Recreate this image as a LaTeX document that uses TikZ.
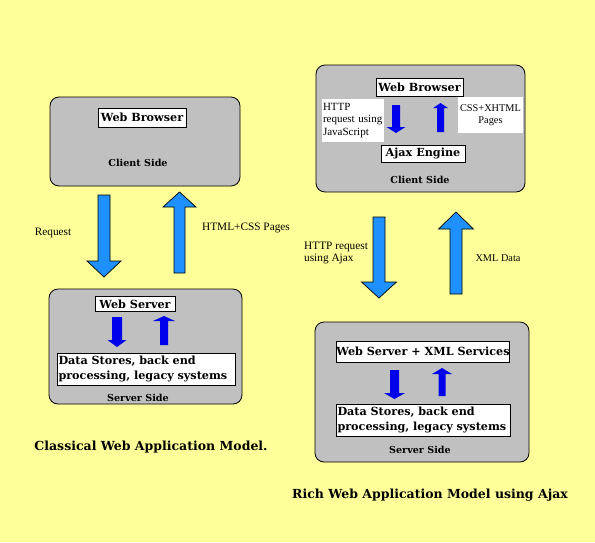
\documentclass[tikz,border=0pt]{standalone}
\usepackage{fontspec}
\setmainfont{Liberation Serif}
\newfontfamily\dvs{DejaVu Serif}
\definecolor{bgyellow}{RGB}{255,255,153}
\definecolor{panelgray}{RGB}{192,192,192}
\definecolor{bigblue}{RGB}{30,144,255}
\definecolor{smallblue}{RGB}{0,0,235}
\newcommand{\arrowshape}[7]{%
  \filldraw[#1] ({#2-#3},#5) -- ({#2-#3},#6) -- ({#2-#4},#6) -- (#2,#7)
    -- ({#2+#4},#6) -- ({#2+#3},#6) -- ({#2+#3},#5) -- cycle;}
\begin{document}
\begin{tikzpicture}[x=1pt,y=-1pt,
  panel/.style={draw=black, fill=panelgray, rounded corners=9pt, line width=0.8pt},
  lblbox/.style={draw=black, fill=white, line width=0.6pt, inner sep=0pt, align=center, font=\dvs\bfseries\fontsize{11.2}{15.5}\selectfont},
  sidelbl/.style={font=\dvs\bfseries\fontsize{9.6}{11}\selectfont, inner sep=0pt},
  small/.style={font=\fontsize{11.3}{12.5}\selectfont, inner sep=0pt},
  caption/.style={font=\dvs\bfseries\fontsize{12.5}{14}\selectfont, inner sep=0pt},
  bigarrow/.style={fill=bigblue, draw=black, line width=0.7pt},
  smallarrow/.style={fill=smallblue, draw=none}]
\fill[bgyellow] (0,0) rectangle (595,542);
\useasboundingbox (0,0) rectangle (595,542);
% left panels
\draw[panel] (50,97) rectangle (240,186);
\draw[panel] (49,289) rectangle (242,404);
% right panels
\draw[panel] (316,65) rectangle (525,192);
\draw[panel] (315,322) rectangle (529,462);
% left top
\node[lblbox, minimum width=88pt, minimum height=19pt] (lwb) at (142,117.5) {Web Browser};
\node[sidelbl] (lcs) at (138,163) {Client Side};
% left bottom
\node[lblbox, minimum width=80pt, minimum height=15pt] (lws) at (135,304) {Web Server};
\node[lblbox, minimum width=178pt, minimum height=32pt, align=left, text width=175pt] (lds) at (146,369) {Data Stores, back end\\processing, legacy systems};
\node[sidelbl] (lss) at (138,398) {Server Side};
\arrowshape{smallarrow}{117}{5}{9.5}{317}{340}{347}
\arrowshape{smallarrow}{164}{4}{11}{345}{321}{316}
% left big arrows
\arrowshape{bigarrow}{104}{6}{17}{195}{261}{277}
\arrowshape{bigarrow}{179.5}{5.5}{16.5}{273}{207}{192}
\node[small] (lreq) at (53,233) {Request};
\node[small] (lhtml) at (246,228) {HTML+CSS Pages};
% right top
\node[lblbox, minimum width=87pt, minimum height=18pt] (rwb) at (419.5,87) {Web Browser};
\node[draw=none, fill=white, inner sep=0pt, minimum width=62pt, minimum height=43pt, text width=60pt, align=left, font=\fontsize{11}{12.5}\selectfont] (rhttp) at (353,120.5) {HTTP\\request using\\JavaScript};
\node[draw=none, fill=white, inner sep=0pt, minimum width=65pt, minimum height=36pt, align=center, font=\fontsize{10.3}{12.5}\selectfont] (rcss) at (490.5,115) {CSS+XHTML\\Pages};
\node[lblbox, minimum width=84pt, minimum height=17pt] (rae) at (423,153.5) {Ajax Engine};
\node[sidelbl] (rcs) at (420,180) {Client Side};
\arrowshape{smallarrow}{396}{4}{9.5}{105}{127}{133}
\arrowshape{smallarrow}{440.5}{3.5}{7.5}{132}{108}{103}
% right big arrows
\arrowshape{bigarrow}{379}{6}{17.5}{217}{282}{298}
\arrowshape{bigarrow}{456}{6}{17.5}{294}{229}{212}
\node[small, align=left, anchor=west] (rhreq) at (304,253) {HTTP request\\using Ajax};
\node[small, font=\fontsize{10.3}{12}\selectfont] (rxml) at (498,258) {XML Data};
% right bottom
\node[lblbox, minimum width=172pt, minimum height=21pt] (rws) at (423,351.5) {Web Server + XML Services};
\node[lblbox, minimum width=174pt, minimum height=32pt, align=left, text width=171pt] (rds) at (423,420) {Data Stores, back end\\processing, legacy systems};
\node[sidelbl] (rss) at (420,450) {Server Side};
\arrowshape{smallarrow}{394.5}{4.5}{10.5}{370}{393}{399}
\arrowshape{smallarrow}{442}{3.5}{10}{396}{374}{368}
% captions
\node[caption] (cap1) at (151,447) {Classical Web Application Model.};
\node[caption] (cap2) at (430,495) {Rich Web Application Model using Ajax};
\end{tikzpicture}
\end{document}
